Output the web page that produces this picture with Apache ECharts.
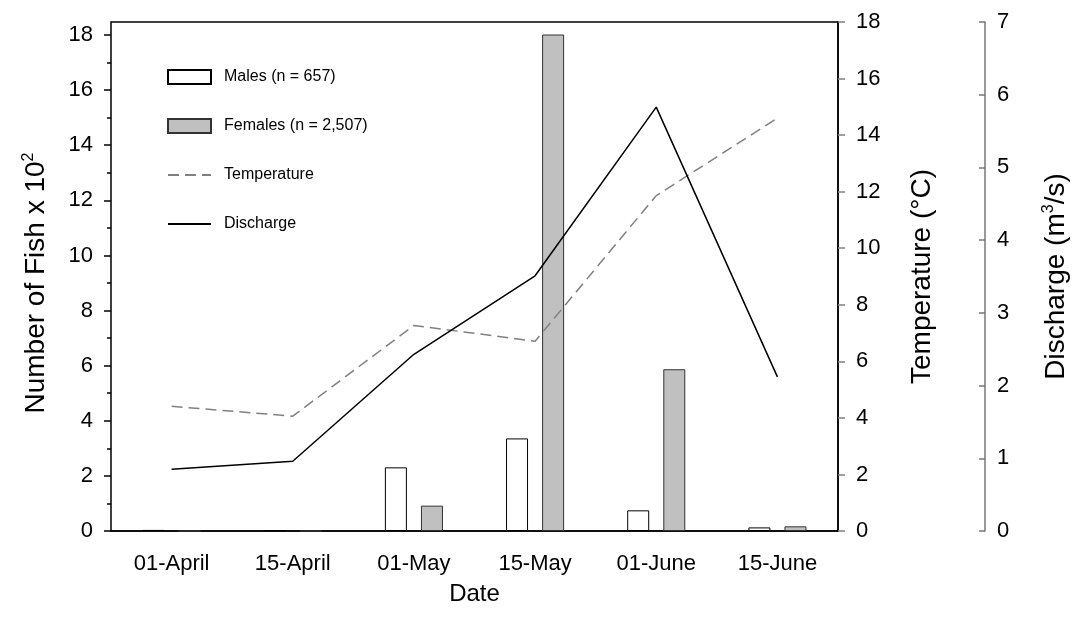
<!DOCTYPE html>
<html>
<head>
<meta charset="utf-8">
<script src="https://cdn.jsdelivr.net/npm/echarts@6/dist/echarts.min.js"></script>
<style>html,body{margin:0;padding:0;background:#fff}#c{width:1080px;height:623px}</style>
</head>
<body>
<div id="c"></div>
<script>
const categories = ['01-April', '15-April', '01-May', '15-May', '01-June', '15-June'];
const males = [0.04, 0.03, 2.31, 3.36, 0.75, 0.13];
const females = [0, 0, 0.92, 18.12, 5.87, 0.17];
const temperature = [4.41, 4.06, 7.27, 6.71, 11.86, 14.6];
const discharge = [0.85, 0.96, 2.43, 3.51, 5.83, 2.12];
const fishTicks = [0, 18, 2];
const tempTicks = [0, 18, 2];
const dischargeTicks = [0, 7, 1];

const FONT = 'Liberation Sans, Arial, sans-serif';
const chart = echarts.init(document.getElementById('c'), null, {renderer: 'canvas'});
const lbl = {fontFamily: FONT, fontSize: 22, color: '#000'};

chart.setOption({
  animation: false,
  backgroundColor: '#fff',
  textStyle: {fontFamily: FONT},
  grid: [
    {left: 111, right: 242, top: 22, bottom: 92, show: true, borderColor: '#000', borderWidth: 1.5, containLabel: false},
    {left: 111, right: 242, top: 35, bottom: 92, show: false, containLabel: false}
  ],
  legend: {
    orient: 'vertical', left: 162, top: 64, itemWidth: 43, itemHeight: 14, itemGap: 33,
    textStyle: {fontFamily: FONT, fontSize: 16, color: '#000', padding: [0, 0, 0, 8]},
    data: [
      {name: 'Males (n = 657)', icon: 'rect'},
      {name: 'Females (n = 2,507)', icon: 'rect'},
      {name: 'Temperature', itemStyle: {opacity: 0}},
      {name: 'Discharge', itemStyle: {opacity: 0}}
    ]
  },
  xAxis: [
    {
      type: 'category', gridIndex: 0, data: categories, boundaryGap: true,
      axisLine: {lineStyle: {color: '#000', width: 1.5}},
      axisTick: {alignWithLabel: true, length: 6, lineStyle: {color: '#000', width: 1.5}},
      axisLabel: Object.assign({margin: 22}, lbl),
      name: 'Date', nameLocation: 'middle', nameGap: 51,
      nameTextStyle: {fontFamily: FONT, fontSize: 24, color: '#000'}
    },
    {type: 'category', gridIndex: 1, data: categories, boundaryGap: true, show: false}
  ],
  yAxis: [
    {
      type: 'value', gridIndex: 0, position: 'right', min: tempTicks[0], max: tempTicks[1], interval: tempTicks[2],
      splitLine: {show: false},
      axisLine: {show: true, lineStyle: {color: '#000', width: 1.5}},
      axisTick: {show: true, length: 7, lineStyle: {color: '#808080', width: 1.5}},
      axisLabel: Object.assign({margin: 18}, lbl),
      name: '{a|Temperature (°C)}', nameLocation: 'middle', nameGap: 70, nameRotate: 90,
      nameTextStyle: {rich: {a: {fontFamily: FONT, fontSize: 28, color: '#000'}}}
    },
    {
      type: 'value', gridIndex: 0, position: 'right', offset: 147, min: dischargeTicks[0], max: dischargeTicks[1], interval: dischargeTicks[2],
      splitLine: {show: false},
      axisLine: {show: true, lineStyle: {color: '#777', width: 1.5}},
      axisTick: {show: true, inside: true, length: 6, lineStyle: {color: '#777', width: 1.5}},
      axisLabel: Object.assign({margin: 12}, lbl),
      name: '{a|Discharge (m}{s|3}{a|/s)}', nameLocation: 'middle', nameGap: 56, nameRotate: 90,
      nameTextStyle: {rich: {
        a: {fontFamily: FONT, fontSize: 28, color: '#000', lineHeight: 30},
        s: {fontFamily: FONT, fontSize: 16, color: '#000', lineHeight: 14, verticalAlign: 'top'}
      }}
    },
    {
      type: 'value', gridIndex: 1, position: 'left', min: fishTicks[0], max: fishTicks[1], interval: fishTicks[2],
      splitLine: {show: false},
      axisLine: {show: false},
      axisTick: {show: true, length: 7, lineStyle: {color: '#000', width: 1.5}},
      minorTick: {show: true, splitNumber: 2, length: 4, lineStyle: {color: '#000', width: 1.5}},
      axisLabel: Object.assign({margin: 18}, lbl),
      name: '{a|Number of Fish x 10}{s|2}', nameLocation: 'middle', nameGap: 60, nameRotate: 90,
      nameTextStyle: {rich: {
        a: {fontFamily: FONT, fontSize: 28, color: '#000', lineHeight: 30},
        s: {fontFamily: FONT, fontSize: 16, color: '#000', lineHeight: 14, verticalAlign: 'top'}
      }}
    }
  ],
  series: [
    {
      name: 'Males (n = 657)', type: 'bar', xAxisIndex: 1, yAxisIndex: 2, data: males,
      barWidth: 22, barGap: '64%',
      itemStyle: {color: '#fff', borderColor: '#000', borderWidth: 1}
    },
    {
      name: 'Females (n = 2,507)', type: 'bar', xAxisIndex: 1, yAxisIndex: 2, data: females,
      barWidth: 22, barGap: '64%',
      itemStyle: {color: '#c0c0c0', borderColor: '#333', borderWidth: 1}
    },
    {
      name: 'Temperature', type: 'line', xAxisIndex: 0, yAxisIndex: 0, data: temperature,
      symbol: 'none', z: 5,
      lineStyle: {color: '#808080', width: 1.5, type: [11, 6]},
      itemStyle: {color: '#808080'}
    },
    {
      name: 'Discharge', type: 'line', xAxisIndex: 0, yAxisIndex: 1, data: discharge,
      symbol: 'none', z: 5,
      lineStyle: {color: '#000', width: 1.5},
      itemStyle: {color: '#000'}
    }
  ]
});
</script>
</body>
</html>
